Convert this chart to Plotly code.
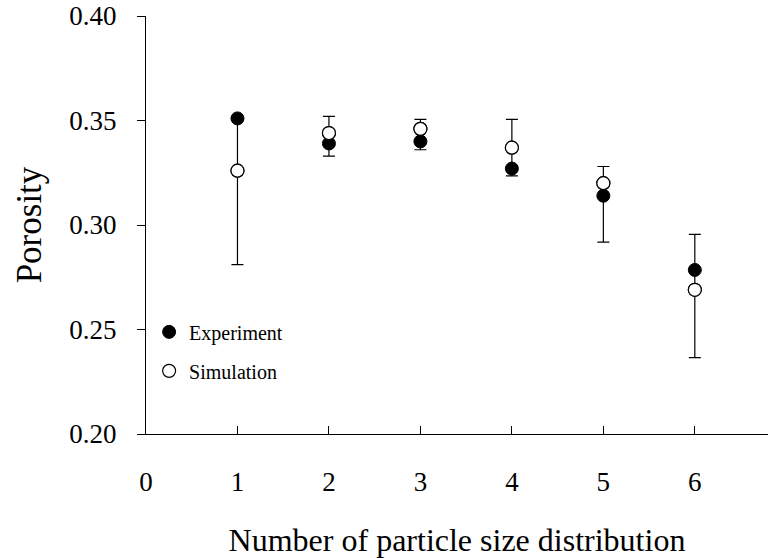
import plotly.graph_objects as go

x_values = [1, 2, 3, 4, 5, 6]
experiment = [0.351, 0.339, 0.340, 0.327, 0.314, 0.2785]
simulation = [0.326, 0.344, 0.346, 0.337, 0.320, 0.269]
bar_top = [0.351, 0.352, 0.3505, 0.3505, 0.328, 0.2955]
bar_bottom = [0.281, 0.333, 0.336, 0.3235, 0.2918, 0.2365]
x_ticks = [0, 1, 2, 3, 4, 5, 6]
y_ticks = [0.20, 0.25, 0.30, 0.35, 0.40]

FONT = "Liberation Serif"

err_plus = [t - s for t, s in zip(bar_top, simulation)]
err_minus = [s - b for s, b in zip(simulation, bar_bottom)]

fig = go.Figure()
fig.add_trace(go.Scatter(
    x=x_values, y=simulation, mode="markers", name="Simulation",
    legendgroup="sim", showlegend=False,
    marker=dict(size=13, color="white", line=dict(color="black", width=1.2)),
    error_y=dict(type="data", symmetric=False, array=err_plus, arrayminus=err_minus,
                 color="black", thickness=1.2, width=6),
))
fig.add_trace(go.Scatter(
    x=x_values, y=experiment, mode="markers", name="Experiment",
    legendgroup="exp",
    marker=dict(size=13, color="black", line=dict(color="black", width=1)),
))
# simulation markers redrawn on top (no error bars) so open circles overlap filled ones
fig.add_trace(go.Scatter(
    x=x_values, y=simulation, mode="markers", name="Simulation",
    legendgroup="sim",
    marker=dict(size=13, color="white", line=dict(color="black", width=1.2)),
))

fig.update_layout(
    width=770, height=558,
    margin=dict(l=146, r=2, t=16, b=124),
    paper_bgcolor="white", plot_bgcolor="white",
    font=dict(family=FONT, color="black"),
    showlegend=True,
    legend=dict(x=0.005, y=0.291, xanchor="left", yanchor="top",
                font=dict(family=FONT, size=20, color="black"),
                bgcolor="rgba(0,0,0,0)", tracegroupgap=10,
                itemwidth=30),
    xaxis=dict(range=[0, 6.8], tickvals=x_ticks, ticktext=[str(v) for v in x_ticks],
               ticks="inside", ticklen=8, tickcolor="black", tickwidth=1,
               showline=True, linecolor="black", linewidth=1.2, mirror=False,
               showgrid=False, zeroline=False, automargin=False,
               ticklabeloverflow="allow",
               tickfont=dict(family=FONT, size=27, color="black"),
               ticklabelstandoff=23,
               title=dict(text="Number of particle size distribution",
                          font=dict(family=FONT, size=32, color="black"), standoff=34)),
    yaxis=dict(range=[0.20, 0.40], tickvals=y_ticks, ticktext=[f"{v:.2f}" for v in y_ticks],
               ticks="outside", ticklen=8, tickcolor="black", tickwidth=1,
               showline=True, linecolor="black", linewidth=1.2, mirror=False,
               showgrid=False, zeroline=False, automargin=True,
               ticklabeloverflow="allow",
               tickfont=dict(family=FONT, size=27, color="black"),
               ticklabelstandoff=15,
               title=dict(text="Porosity", font=dict(family=FONT, size=35, color="black"),
                          standoff=17)),
)

fig.write_html("out.html", config={"displayModeBar": False},
               post_script="document.body.style.margin='0';")
